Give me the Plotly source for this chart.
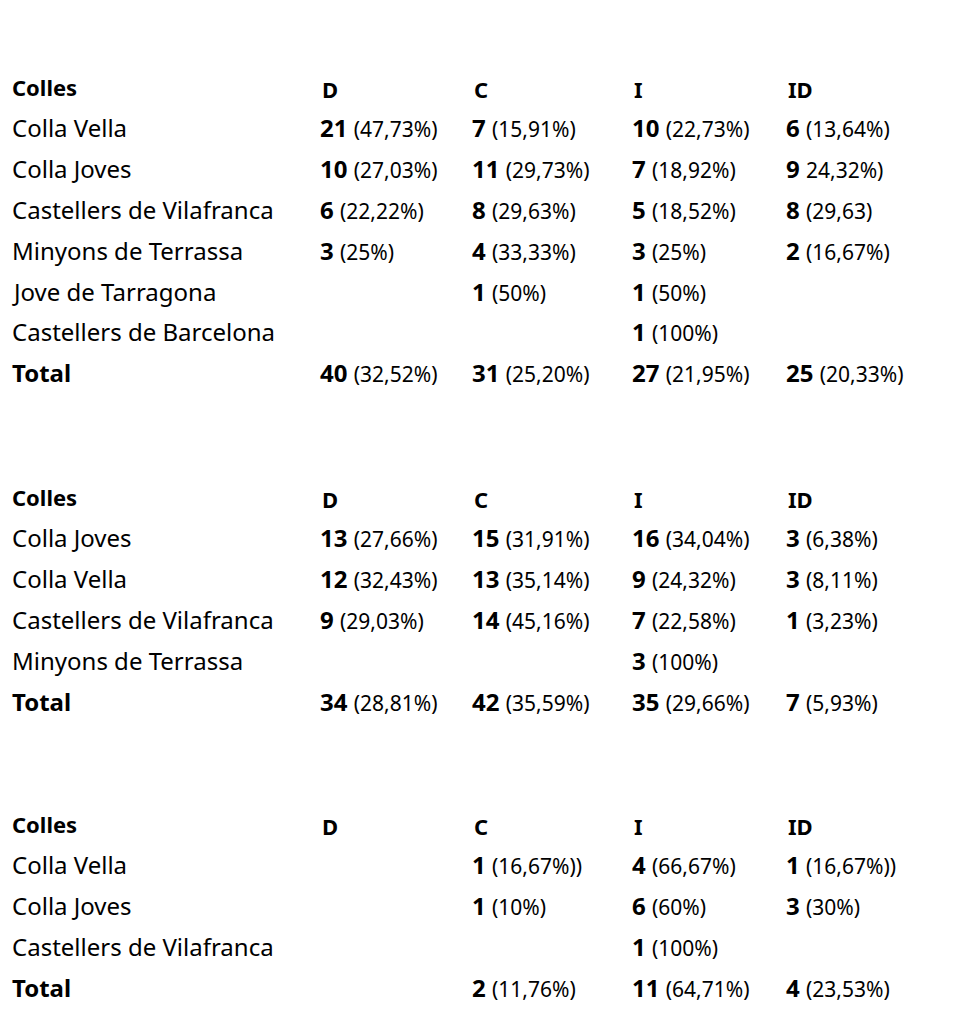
import plotly.graph_objects as go

# --- data ---
titles = ["4de9sf (històric)", "2de8sf (històric)", "3de9sf (històric)"]
columns = ["D", "C", "I", "ID"]

teams_1 = ["Colla Vella", "Colla Joves", "Castellers de Vilafranca", "Minyons de Terrassa",
           "Jove de Tarragona", "Castellers de Barcelona", "Total"]
cells_1 = [
    [("21", "(47,73%)"), ("7", "(15,91%)"), ("10", "(22,73%)"), ("6", "(13,64%)")],
    [("10", "(27,03%)"), ("11", "(29,73%)"), ("7", "(18,92%)"), ("9", "24,32%)")],
    [("6", "(22,22%)"), ("8", "(29,63%)"), ("5", "(18,52%)"), ("8", "(29,63)")],
    [("3", "(25%)"), ("4", "(33,33%)"), ("3", "(25%)"), ("2", "(16,67%)")],
    [None, ("1", "(50%)"), ("1", "(50%)"), None],
    [None, None, ("1", "(100%)"), None],
    [("40", "(32,52%)"), ("31", "(25,20%)"), ("27", "(21,95%)"), ("25", "(20,33%)")],
]

teams_2 = ["Colla Joves", "Colla Vella", "Castellers de Vilafranca", "Minyons de Terrassa", "Total"]
cells_2 = [
    [("13", "(27,66%)"), ("15", "(31,91%)"), ("16", "(34,04%)"), ("3", "(6,38%)")],
    [("12", "(32,43%)"), ("13", "(35,14%)"), ("9", "(24,32%)"), ("3", "(8,11%)")],
    [("9", "(29,03%)"), ("14", "(45,16%)"), ("7", "(22,58%)"), ("1", "(3,23%)")],
    [None, None, ("3", "(100%)"), None],
    [("34", "(28,81%)"), ("42", "(35,59%)"), ("35", "(29,66%)"), ("7", "(5,93%)")],
]

teams_3 = ["Colla Vella", "Colla Joves", "Castellers de Vilafranca", "Total"]
cells_3 = [
    [None, ("1", "(16,67%))"), ("4", "(66,67%)"), ("1", "(16,67%))")],
    [None, ("1", "(10%)"), ("6", "(60%)"), ("3", "(30%)")],
    [None, None, ("1", "(100%)"), None],
    [None, ("2", "(11,76%)"), ("11", "(64,71%)"), ("4", "(23,53%)")],
]

sections = [(titles[0], teams_1, cells_1, 45),
            (titles[1], teams_2, cells_2, 455),
            (titles[2], teams_3, cells_3, 782)]

col_x = [322, 474, 634, 788]
row_step = 40.8
FONT = "Noto Sans"
DX, DY = -10, -9  # annotation padding offset

annotations = []

def add(x, y, text, size=22, family=FONT):
    annotations.append(dict(x=x + DX, y=y + DY, xref="x", yref="y", text=text, showarrow=False,
                            xanchor="left", yanchor="middle",
                            font=dict(family=family, size=size, color="black")))

for title, teams, cells, ty in sections:
    add(8, ty, "<b>" + title + "</b>", size=42, family="Liberation Sans Narrow")
    hy = ty + 43
    add(12, hy, "<b>Colles</b>", size=22)
    for cx, c in zip(col_x, columns):
        add(cx, hy + 2, "<b>" + c + "</b>", size=22)
    for i, (team, row) in enumerate(zip(teams, cells)):
        y = hy + row_step * (i + 1)
        label = "<b>" + team + "</b>" if team == "Total" else team
        add(12, y, label, size=24)
        for cx, cell in zip(col_x, row):
            if cell is None:
                continue
            num, pct = cell
            add(cx - 2, y, "<b>" + num + "</b> <span style='font-size:21px'>" + pct + "</span>", size=24)

fig = go.Figure()
fig.update_layout(
    width=962, height=1024,
    margin=dict(l=0, r=0, t=0, b=0),
    paper_bgcolor="white", plot_bgcolor="white",
    xaxis=dict(range=[0, 962], visible=False, fixedrange=True),
    yaxis=dict(range=[1024, 0], visible=False, fixedrange=True),
    annotations=annotations,
    showlegend=False,
)

fig.write_html("out.html")
